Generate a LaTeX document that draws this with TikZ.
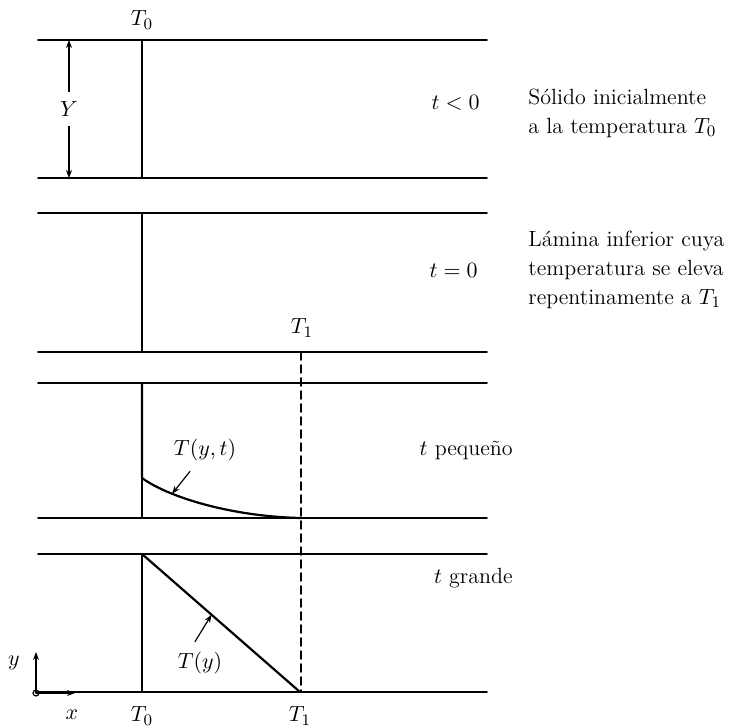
\documentclass[tikz,border=0pt]{standalone}
\usepackage{amsmath}
\usepackage{tikz}
\usetikzlibrary{arrows.meta, calc}

\begin{document}
\begin{tikzpicture}[x=0.5pt, y=-0.5pt, line cap=round, line join=round,
    wall/.style={line width=0.8pt},
    profile/.style={line width=1.1pt},
    lbl/.style={font=\fontsize{11}{14}\selectfont, inner sep=1pt},
    note/.style={font=\fontsize{11}{14.5}\selectfont, align=left, inner sep=0pt, anchor=west},
    dim/.style={line width=0.6pt, {Stealth[length=4pt,width=3pt]}-{Stealth[length=4pt,width=3pt]}},
    pointer/.style={line width=0.6pt, -{Stealth[length=4pt,width=3pt]}}]
\useasboundingbox (0,0) rectangle (746,727);
% walls of the four panels
\foreach \ytop/\ybot in {40/178, 213/352, 383/518, 554/692}{
    \draw[wall] (38,\ytop) -- (487,\ytop);
    \draw[wall] (38,\ybot) -- (487,\ybot);
}
% t < 0
\draw[dim] (69,40) -- (69,178) node[midway, fill=white, lbl, inner xsep=2pt, inner ysep=5pt] (Ylbl) {$Y$};
\draw[profile] (142,40) -- (142,178);
\node[lbl] (T0top) at (142,20) {$T_0$};
\node[lbl, anchor=east] (tneg) at (482,103) {$t<0$};
\node[note] (solido) at (528,113) {Sólido inicialmente\\a la temperatura $T_0$};
% t = 0
\draw[profile] (142,213) -- (142,352) -- (300,352);
\node[lbl] (T1mid) at (302,328) {$T_1$};
\node[lbl, anchor=east] (tzero) at (480,270) {$t=0$};
\node[note] (lamina) at (528,270) {Lámina inferior cuya\\temperatura se eleva\\repentinamente a $T_1$};
% t small
\draw[wall] (142,478) -- (142,518);
\draw[profile] (142,383) -- (142,478) .. controls (165,495) and (225,516) .. (300,518)
    coordinate[pos=0.3] (cpt);
\node[lbl] (Tyt) at (205,450) {$T(y,t)$};
\draw[pointer] ($(Tyt.south)+(-15,8)$) -- (cpt);
\node[lbl, anchor=east] (tsmall) at (515,450) {$t$ pequeño};
% t large
\draw[wall] (142,554) -- (142,692);
\draw[profile] (142,554) -- (300,692) coordinate[pos=0.44] (dpt);
\node[lbl] (Ty) at (200,663) {$T(y)$};
\draw[pointer] ($(Ty.north)+(-5,-8)$) -- (dpt);
\node[lbl, anchor=east] (tlarge) at (515,578) {$t$ grande};
% T1 guide
\draw[wall, dash pattern=on 4pt off 2.5pt] (301,352) -- (301,692);
% axes
\coordinate (orig) at (36,693);
\draw[line width=0.6pt] (orig) circle (3);
\draw[pointer] (orig) -- (36,652);
\draw[pointer] (orig) -- (75,693);
\node[lbl] (ylbl) at (14,663) {$y$};
\node[lbl] (xlbl) at (72,715) {$x$};
\node[lbl] (T0bot) at (142,716) {$T_0$};
\node[lbl] (T1bot) at (300,716) {$T_1$};
\end{tikzpicture}
\end{document}
